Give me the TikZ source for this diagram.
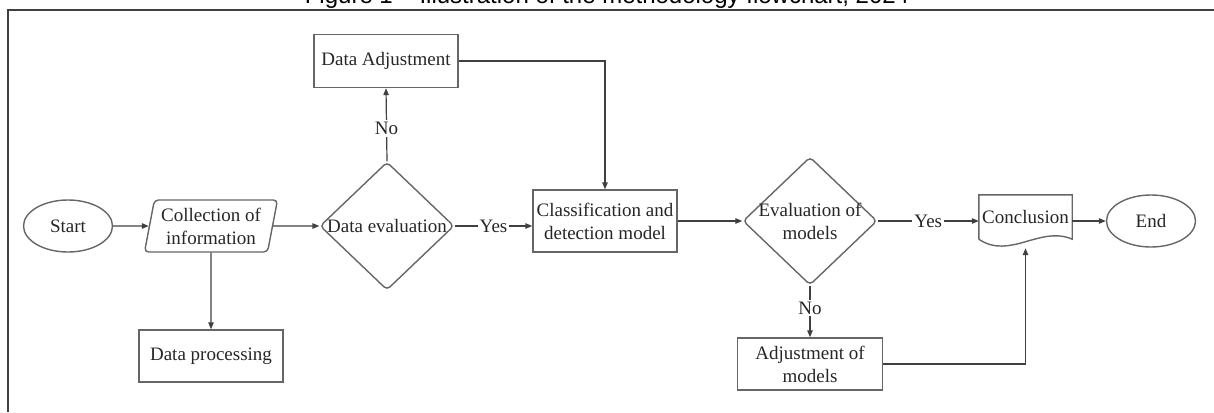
\documentclass[tikz,border=0pt]{standalone}
\usepackage{fontspec}
\setmainfont{Liberation Serif}
\newfontfamily\capfont{Liberation Sans}
\usetikzlibrary{shapes.geometric,arrows.meta,calc}

\begin{document}
\begin{tikzpicture}[x=1pt,y=-1pt,
  every node/.style={font=\fontsize{19}{23}\selectfont, text=black!85},
  box/.style={draw=black!60, line width=1.4pt, minimum width=144, minimum height=52, align=center, inner sep=1pt},
  term/.style={ellipse, draw=black!60, line width=1.4pt, minimum width=89, minimum height=52, inner sep=0pt},
  dia/.style={diamond, draw=black!60, line width=1.4pt, minimum width=134, minimum height=128, inner sep=0pt, rounded corners=4pt},
  arr/.style={-{Triangle[length=7pt,width=5.5pt]}, draw=black!75, line width=1.2pt},
  lbl/.style={fill=white, inner sep=2pt}]
\useasboundingbox (0,0) rectangle (1214,412);

\node[font=\capfont\fontsize{24}{28}\selectfont, anchor=base, text=black] (title) at (607,4) {Figure 1 – Illustration of the methodology flowchart, 2024};
\draw[line width=2pt, draw=black!75] (8,412) -- (8,10) -- (1214,10);

\node[term] (start) at (68,226) {Start};
\node[trapezium, trapezium left angle=77, trapezium right angle=103, trapezium stretches=true,
      draw=black!60, line width=1.4pt, rounded corners=4pt, minimum width=133, minimum height=52,
      align=center, inner sep=1pt] (coll) at (211,226) {Collection of\\information};
\node[dia, label={[align=center]center:Data evaluation}] (deval) at (387,226) {};
\node[box, minimum height=53] (dadj) at (386,61) {Data Adjustment};
\node[box] (dproc) at (211,356) {Data processing};
\node[box, minimum height=62] (clf) at (605,221) {Classification and\\detection model};
\node[dia, label={[align=center]center:Evaluation of\\models}] (meval) at (810,221) {};
\node[box, minimum width=145] (madj) at (810,364) {Adjustment of\\models};
\node[minimum width=93, minimum height=44, inner sep=0pt] (concl) at (1025.5,217) {Conclusion};
\draw[draw=black!60, line width=1.4pt] (concl.south west) -- (concl.north west) -- (concl.north east) -- (concl.south east)
  .. controls ($(concl.south east)+(-32,-14)$) and ($(concl.south west)+(31,21)$) .. (concl.south west);
\node[term] (end) at (1151,221) {End};
\coordinate (cin) at ($(concl.south)+(0,9)$);

\draw[arr] (start) -- (coll);
\draw[arr] (coll) -- (deval);
\draw[arr] (deval.east) -- node[lbl]{Yes} (deval.east -| clf.west);
\draw[arr] (deval.north) -- node[lbl, pos=0.45]{No} (dadj.south);
\draw[arr] (dadj.east) -| (clf.north);
\draw[arr] (coll.south) -- (dproc.north);
\draw[arr] (clf.east) -- (meval.west);
\draw[arr] (meval.east) -- node[lbl]{Yes} (meval.east -| concl.west);
\draw[arr] (concl.east |- end.west) -- (end.west);
\draw[arr] (meval.south) -- node[lbl, pos=0.43]{No} (madj.north);
\draw[arr] (madj.east) -| (cin);
\end{tikzpicture}
\end{document}
